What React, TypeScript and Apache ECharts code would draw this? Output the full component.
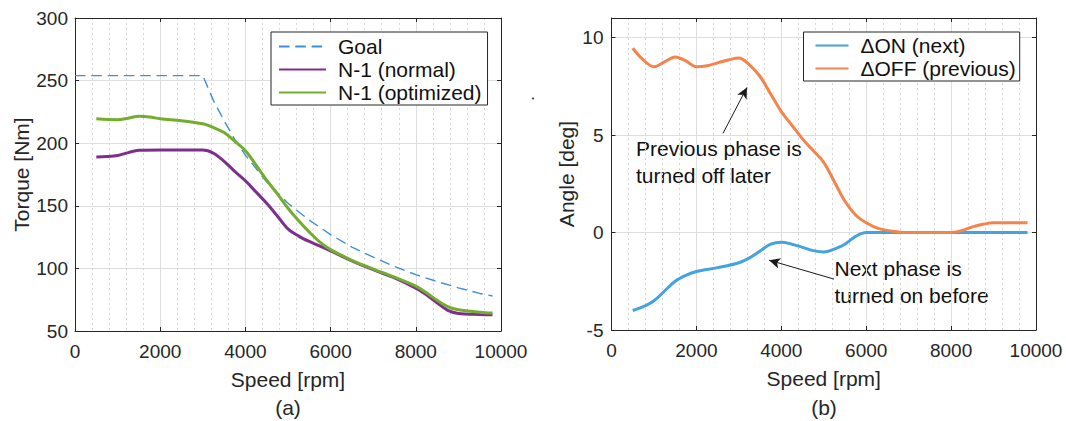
import React, { useEffect, useRef } from "react";
import * as echarts from "echarts";

const FONT = "'Liberation Sans', Arial, Helvetica, sans-serif";
const TXT = "#262626";

// ---- Chart (a): torque vs speed ----
const goalSpeed = [0, 3000, 3250, 3500, 3750, 4000, 4500, 5000, 5500, 6000, 6500, 7000, 7500, 8000, 8500, 9000, 9500, 9800];
const goalTorque = [254, 254, 234, 218, 203, 190.5, 169, 152, 138.5, 127, 117, 109, 101.5, 95, 89.5, 84.5, 80, 78];

const normalSpeed = [500, 750, 1000, 1250, 1500, 2000, 2500, 3000, 3250, 3500, 3750, 4000, 4250, 4500, 4750, 5000, 5250, 5500, 6000, 6500, 7000, 7500, 8000, 8250, 8500, 8750, 9000, 9500, 9800];
const normalTorque = [189, 189.3, 190.2, 192.5, 194.3, 194.5, 194.5, 194.5, 192, 185.5, 177.5, 170, 161, 152, 141.8, 131.5, 125.8, 121.5, 114, 106, 99, 92.5, 84.3, 79, 72.5, 66.5, 64, 63.2, 63];

const optSpeed = [500, 1000, 1250, 1500, 1750, 2000, 2500, 3000, 3250, 3500, 3750, 4000, 4250, 4500, 4750, 5000, 5250, 5500, 5750, 6000, 6500, 7000, 7500, 8000, 8250, 8500, 8750, 9000, 9500, 9800];
const optTorque = [219.5, 218.8, 220, 221.5, 221, 219.5, 218, 215.5, 212.5, 208.5, 201.5, 194, 182.5, 170.5, 159.5, 148, 138, 129, 121, 115, 106.5, 99.5, 93, 85.8, 80.5, 74.5, 69.5, 67, 65, 64.3];

// ---- Chart (b): angle vs speed ----
const onSpeed = [500, 750, 1000, 1250, 1500, 1750, 2000, 2500, 3000, 3250, 3500, 3750, 4000, 4250, 4500, 4750, 5000, 5250, 5500, 5750, 6000, 7000, 8000, 9000, 9800];
const onAngle = [-4.0, -3.8, -3.5, -3.0, -2.5, -2.2, -2.0, -1.8, -1.55, -1.3, -0.95, -0.6, -0.5, -0.6, -0.76, -0.93, -1.0, -0.85, -0.6, -0.2, 0, 0, 0, 0, 0];

const offSpeed = [500, 750, 1000, 1250, 1500, 1750, 2000, 2250, 2500, 2750, 3000, 3250, 3500, 3750, 4000, 4250, 4500, 4750, 5000, 5250, 5500, 5750, 6000, 6300, 6750, 7000, 8000, 8250, 8500, 8750, 9000, 9500, 9800];
const offAngle = [9.45, 8.85, 8.5, 8.75, 9.0, 8.8, 8.5, 8.55, 8.7, 8.85, 8.95, 8.6, 8.0, 7.1, 6.2, 5.5, 4.8, 4.2, 3.6, 2.6, 1.6, 0.9, 0.5, 0.2, 0.03, 0, 0, 0.1, 0.29, 0.42, 0.5, 0.5, 0.5];

// annotation arrows in data coordinates [speed, angle]
const arrowOffTail = [2628, 5.09];
const arrowOffHead = [3191, 7.44];
const arrowOnTail = [5242, -2.39];
const arrowOnHead = [3713, -1.42];

const zip = (xs: number[], ys: number[]) => xs.map((x, i) => [x, ys[i]]);
const plain = (v: number) => String(v);

function bottomX(grid: number) {
  return {
    type: "value",
    gridIndex: grid,
    position: "bottom",
    min: 0,
    max: 10000,
    interval: 2000,
    name: "Speed [rpm]",
    nameLocation: "middle",
    nameGap: 38,
    nameTextStyle: { fontSize: 21, color: TXT, fontFamily: FONT },
    axisLine: { show: true, onZero: false, lineStyle: { color: TXT, width: 1 } },
    axisTick: { show: true, inside: true, length: 4, lineStyle: { color: TXT } },
    axisLabel: { fontSize: 19, color: TXT, fontFamily: FONT, margin: 11, formatter: plain },
    splitLine: { show: true, lineStyle: { color: "#dedede", width: 1 } },
    minorTick: { show: false, splitNumber: 5 },
    minorSplitLine: { show: true, lineStyle: { color: "#d6d6d6", width: 1, type: [2, 3] } },
  };
}
function topX(grid: number) {
  return {
    type: "value",
    gridIndex: grid,
    position: "top",
    min: 0,
    max: 10000,
    interval: 2000,
    axisLine: { show: true, onZero: false, lineStyle: { color: TXT, width: 1 } },
    axisTick: { show: true, inside: true, length: 4, lineStyle: { color: TXT } },
    axisLabel: { show: false },
    splitLine: { show: false },
  };
}
function leftY(grid: number, min: number, max: number, interval: number, name: string, nameGap: number, margin: number) {
  return {
    type: "value",
    gridIndex: grid,
    position: "left",
    min,
    max,
    interval,
    name,
    nameLocation: "middle",
    nameGap,
    nameTextStyle: { fontSize: 21, color: TXT, fontFamily: FONT },
    axisLine: { show: true, onZero: false, lineStyle: { color: TXT, width: 1 } },
    axisTick: { show: true, inside: true, length: 4, lineStyle: { color: TXT } },
    axisLabel: { fontSize: 19, color: TXT, fontFamily: FONT, margin, formatter: plain, showMaxLabel: max % interval === 0 },
    splitLine: { show: true, lineStyle: { color: "#dedede", width: 1 } },
  };
}
function rightY(grid: number, min: number, max: number, interval: number) {
  return {
    type: "value",
    gridIndex: grid,
    position: "right",
    min,
    max,
    interval,
    axisLine: { show: true, onZero: false, lineStyle: { color: TXT, width: 1 } },
    axisTick: { show: true, inside: true, length: 4, lineStyle: { color: TXT } },
    axisLabel: { show: false },
    splitLine: { show: false },
  };
}

function lineSeries(name: string, data: number[][], xi: number, yi: number, color: string, width: number, extra: any = {}) {
  return {
    type: "line",
    name,
    data,
    xAxisIndex: xi,
    yAxisIndex: yi,
    symbol: "none",
    showSymbol: false,
    smooth: 0.35,
    color,
    lineStyle: { color, width },
    emphasis: { disabled: true },
    ...extra,
  };
}

function arrow(tail: number[], head: number[]) {
  return {
    silent: true,
    animation: false,
    symbolSize: [8, 11],
    label: { show: false },
    lineStyle: { color: "#1a1a1a", width: 1, type: "solid" },
    emphasis: { disabled: true },
    data: [[{ coord: tail, symbol: "none" }, { coord: head, symbol: "arrow" }]],
  };
}

const legendBase = {
  orient: "vertical",
  itemGap: 0,
  backgroundColor: "#ffffff",
  borderColor: TXT,
  borderWidth: 1,
  borderRadius: 0,
  selectedMode: false,
  itemHeight: 14,
  itemStyle: { opacity: 0, borderWidth: 0 },
  textStyle: { fontSize: 21, color: "#111", fontFamily: FONT, lineHeight: 23, padding: [0, 0, 0, 7] },
};

export default function App() {
  const ref = useRef<HTMLDivElement>(null);
  useEffect(() => {
    if (!ref.current) return;
    const chart = echarts.init(ref.current, undefined, { renderer: "svg" });
    const option: any = {
      animation: false,
      backgroundColor: "#ffffff",
      grid: [
        { left: 75, top: 18, width: 426, height: 313, containLabel: false },
        { left: 611.5, top: 18, width: 424.5, height: 312, containLabel: false },
      ],
      xAxis: [bottomX(0), bottomX(1), topX(0), topX(1)],
      yAxis: [
        leftY(0, 50, 300, 50, "Torque [Nm]", 42, 7),
        leftY(1, -5, 11, 5, "Angle [deg]", 35, 8),
        rightY(0, 50, 300, 50),
        rightY(1, -5, 11, 5),
      ],
      legend: [
        {
          ...legendBase,
          left: 271,
          top: 32,
          padding: [3, 6, 1, 7],
          itemWidth: 47,
          data: ["Goal", "N-1 (normal)", "N-1 (optimized)"],
        },
        {
          ...legendBase,
          left: 803.5,
          top: 32,
          padding: [2, 4, 1, 11],
          itemWidth: 33,
          data: ["\u0394ON (next)", "\u0394OFF (previous)"],
        },
      ],
      series: [
        lineSeries("Goal", zip(goalSpeed, goalTorque), 0, 0, "#3d8fd9", 1.4, {
          smooth: false,
          lineStyle: { color: "#3d8fd9", width: 1.4, type: [10.5, 5.8] },
        }),
        lineSeries("N-1 (normal)", zip(normalSpeed, normalTorque), 0, 0, "#7e2f8e", 3),
        lineSeries("N-1 (optimized)", zip(optSpeed, optTorque), 0, 0, "#74ad2e", 3),
        lineSeries("\u0394ON (next)", zip(onSpeed, onAngle), 1, 1, "#43a2e0", 3, {
          markLine: arrow(arrowOnTail, arrowOnHead),
        }),
        lineSeries("\u0394OFF (previous)", zip(offSpeed, offAngle), 1, 1, "#f5844c", 3, {
          markLine: arrow(arrowOffTail, arrowOffHead),
        }),
      ],
      graphic: [
        {
          type: "text",
          x: 636,
          y: 134.5,
          silent: true,
          style: {
            text: "Previous phase is\nturned off later",
            fontSize: 21,
            fontFamily: FONT,
            fill: "#111",
            lineHeight: 27,
            verticalAlign: "top",
            align: "left",
          },
        },
        {
          type: "text",
          x: 834.5,
          y: 254.5,
          silent: true,
          style: {
            text: "Next phase is\nturned on before",
            fontSize: 21,
            fontFamily: FONT,
            fill: "#111",
            lineHeight: 27,
            verticalAlign: "top",
            align: "left",
          },
        },
        {
          type: "text",
          x: 288,
          y: 407,
          silent: true,
          style: { text: "(a)", fontSize: 21, fontFamily: FONT, fill: TXT, align: "center", verticalAlign: "middle" },
        },
        {
          type: "text",
          x: 824,
          y: 407,
          silent: true,
          style: { text: "(b)", fontSize: 21, fontFamily: FONT, fill: TXT, align: "center", verticalAlign: "middle" },
        },
        {
          type: "circle",
          silent: true,
          shape: { cx: 533, cy: 98.5, r: 1.1 },
          style: { fill: "#444" },
        },
      ],
    };
    chart.setOption(option);
    return () => chart.dispose();
  }, []);
  return (
    <div
      ref={ref}
      style={{ position: "fixed", left: 0, top: 0, width: 1066, height: 421, background: "#fff" }}
    />
  );
}
